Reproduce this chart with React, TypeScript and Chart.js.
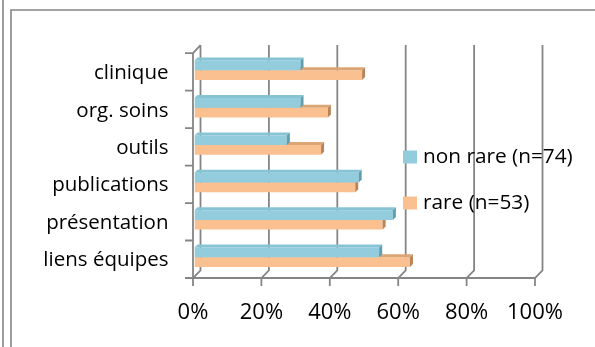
import React, { useEffect, useRef } from "react";
import { Chart, registerables } from "chart.js";

Chart.register(...registerables);

const categories = ["clinique", "org. soins", "outils", "publications", "présentation", "liens équipes"];
const nonRare = [31, 31, 27, 48, 58, 54];
const rare = [49, 39, 37, 47, 55, 63];
const seriesLabels = ["non rare (n=74)", "rare (n=53)"];
const xTickValues = [0, 20, 40, 60, 80, 100];

const FRONT_COLORS = ["#93CDDD", "#FAC090"];
const TOP_COLORS = ["#86c3d4", "#dba574"];
const END_COLORS = ["#5f9db0", "#b98558"];
const GRID = "#858585";
const FONT = '"Open Sans", "DejaVu Sans", sans-serif';

const decoPlugin = {
  id: "deco3d",
  beforeDraw(chart: any) {
    const ctx = chart.ctx;
    ctx.save();
    ctx.strokeStyle = GRID;
    ctx.lineWidth = 1.6;
    ctx.beginPath();
    ctx.moveTo(3, 0);
    ctx.lineTo(3, 347);
    ctx.moveTo(11, 347);
    ctx.lineTo(11, 10);
    ctx.lineTo(595, 10);
    ctx.stroke();
    ctx.restore();
  },
  beforeDatasetsDraw(chart: any) {
    const ctx = chart.ctx;
    const area = chart.chartArea;
    const xs = chart.scales.x;
    const frontDx = -1.5;
    const backDx = 6;
    const frontBottom = area.bottom + 2;
    const frontTop = area.top + 1.5;
    const backBottom = area.bottom - 5.5;
    const backTop = area.top - 6.5;
    ctx.save();
    ctx.strokeStyle = GRID;
    ctx.lineWidth = 1.8;
    ctx.beginPath();
    xTickValues.forEach((v) => {
      const px = xs.getPixelForValue(v);
      const xf = px + frontDx;
      const xb = px + backDx;
      ctx.moveTo(xf, frontBottom + 8);
      ctx.lineTo(xf, frontBottom);
      ctx.lineTo(xb, backBottom);
      ctx.lineTo(xb, backTop);
    });
    const x0 = xs.getPixelForValue(0) + frontDx;
    const x100 = xs.getPixelForValue(100) + frontDx;
    ctx.moveTo(x0 - 8, frontBottom);
    ctx.lineTo(x100, frontBottom);
    ctx.moveTo(x0, frontBottom);
    ctx.lineTo(x0, frontTop);
    ctx.lineTo(xs.getPixelForValue(0) + backDx, backTop);
    const n = categories.length;
    const step = (frontBottom - frontTop) / n;
    for (let k = 0; k < n; k++) {
      const y = frontTop + k * step;
      ctx.moveTo(x0 - 8, y);
      ctx.lineTo(x0, y);
    }
    ctx.stroke();
    ctx.restore();
  },
  afterDatasetDraw(chart: any, args: any) {
    const ctx = chart.ctx;
    const idx = args.index;
    const meta = args.meta;
    const d = 3;
    ctx.save();
    meta.data.forEach((el: any) => {
      const p = el.getProps(["x", "y", "base", "height"], true);
      const x0 = Math.min(p.base, p.x);
      const x1 = Math.max(p.base, p.x);
      const top = p.y - p.height / 2;
      const bot = p.y + p.height / 2;
      ctx.fillStyle = TOP_COLORS[idx];
      ctx.beginPath();
      ctx.moveTo(x0, top);
      ctx.lineTo(x0 + d, top - d);
      ctx.lineTo(x1 + d, top - d);
      ctx.lineTo(x1, top);
      ctx.closePath();
      ctx.fill();
      ctx.fillStyle = END_COLORS[idx];
      ctx.beginPath();
      ctx.moveTo(x1, top);
      ctx.lineTo(x1 + d, top - d);
      ctx.lineTo(x1 + d, bot - d);
      ctx.lineTo(x1, bot);
      ctx.closePath();
      ctx.fill();
    });
    ctx.restore();
  },
  afterDraw(chart: any) {
    const ctx = chart.ctx;
    ctx.save();
    ctx.font = `20.8px ${FONT}`;
    ctx.textBaseline = "middle";
    ctx.textAlign = "left";
    const ys = [157, 203];
    seriesLabels.forEach((lab, i) => {
      ctx.fillStyle = FRONT_COLORS[i];
      ctx.fillRect(403, ys[i] - 6.5, 14, 13);
      ctx.fillStyle = "#000";
      ctx.fillText(lab, 423, ys[i]);
    });
    ctx.restore();
  },
};

export default function App() {
  const ref = useRef<HTMLCanvasElement | null>(null);
  useEffect(() => {
    if (!ref.current) return;
    const chart = new Chart(ref.current, {
      type: "bar",
      data: {
        labels: categories,
        datasets: [
          { label: seriesLabels[0], data: nonRare, backgroundColor: FRONT_COLORS[0], borderWidth: 0 },
          { label: seriesLabels[1], data: rare, backgroundColor: FRONT_COLORS[1], borderWidth: 0 },
        ],
      },
      options: {
        indexAxis: "y",
        responsive: false,
        animation: false,
        devicePixelRatio: 1,
        layout: { padding: { top: 51.6, right: 58.5, bottom: 0, left: 0 } },
        datasets: { bar: { categoryPercentage: 0.52, barPercentage: 1 } },
        plugins: { legend: { display: false }, tooltip: { enabled: false } },
        scales: {
          x: {
            min: 0,
            max: 100,
            ticks: {
              stepSize: 20,
              callback: (v: any) => v + "%",
              color: "#000",
              font: { family: FONT, size: 22 },
              padding: 24,
              labelOffset: -1.5,
              maxRotation: 0,
            },
            grid: { display: false, drawTicks: false },
            border: { display: false },
            afterFit: (s: any) => {
              s.height = 71;
            },
          },
          y: {
            ticks: {
              color: "#000",
              font: { family: FONT, size: 20.5 },
              padding: 26,
              labelOffset: 3,
            },
            grid: { display: false, drawTicks: false },
            border: { display: false },
            afterFit: (s: any) => {
              s.width = 194.5;
            },
          },
        },
      },
      plugins: [decoPlugin],
    });
    return () => chart.destroy();
  }, []);
  return (
    <div style={{ position: "fixed", left: 0, top: 0, width: 595, height: 347, background: "#fff" }}>
      <canvas ref={ref} width={595} height={347} style={{ display: "block" }} />
    </div>
  );
}
